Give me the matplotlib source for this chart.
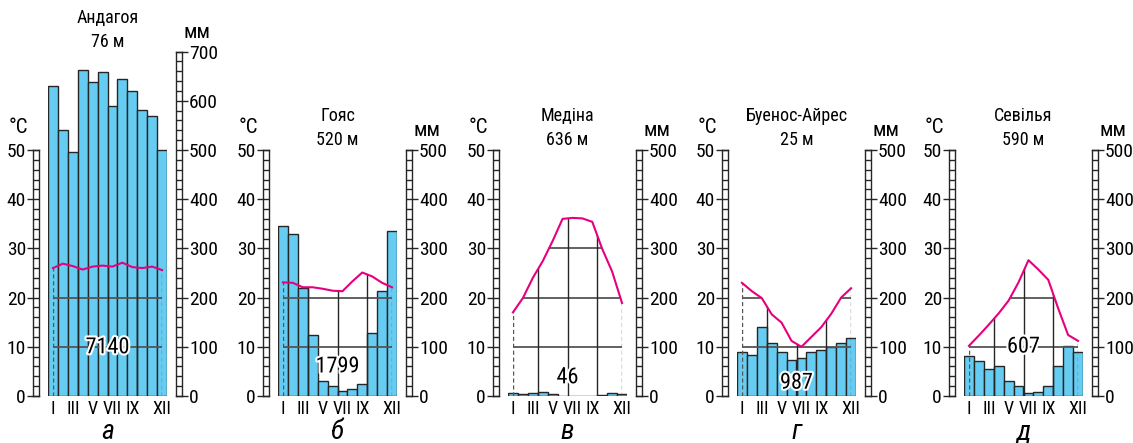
import numpy as np
import matplotlib
matplotlib.use("Agg")
from matplotlib import pyplot as plt
from matplotlib.ticker import MultipleLocator
from matplotlib.patches import Polygon
from matplotlib import font_manager
import matplotlib.patheffects as pe

# pick a narrow face if one is around, the original uses a condensed font
names = {f.name for f in font_manager.fontManager.ttflist}
narrow = [n for n in ["Liberation Sans Narrow", "DejaVu Sans Condensed", "Roboto Condensed",
                      "Open Sans Condensed"] if n in names]
plt.rcParams['font.family'] = narrow + ['DejaVu Sans']
plt.rcParams['font.stretch'] = 'condensed'

W, H = 1133, 443
PX_PER_UNIT = 4.92  # 10 °C == 100 mm == 49.2 px

months = np.arange(1, 13)
month_ticks = [1, 3, 5, 7, 9, 12]
month_labels = ["I", "III", "V", "VII", "IX", "XII"]

stations = ["Андагоя", "Гояс", "Медіна", "Буенос-Айрес", "Севілья"]
heights = ["76 м", "520 м", "636 м", "25 м", "590 м"]
totals = ["7140", "1799", "46", "987", "607"]
letters = ["а", "б", "в", "г", "д"]

# precipitation, mm
andagoya_prec = [630, 540, 495, 663, 638, 659, 590, 645, 620, 582, 569, 500]
goias_prec = [345, 330, 220, 125, 31, 20, 11, 14, 25, 129, 214, 335]
medina_prec = [7, 4, 6, 9, 4, 1, 0.5, 0.5, 1, 2, 7, 4]
ba_prec = [90, 83, 140, 108, 89, 73, 78, 89, 93, 100, 108, 118]
seville_prec = [82, 72, 55, 60, 31, 20, 6, 9, 20, 61, 102, 89]

# temperature, °C
andagoya_temp = [26.0, 26.9, 26.4, 25.7, 26.3, 26.5, 26.3, 27.1, 26.2, 26.0, 26.3, 25.6]
goias_temp = [23.1, 23.0, 22.1, 22.1, 21.8, 21.4, 21.3, 23.3, 25.1, 24.3, 23.0, 22.1]
medina_temp = [17.0, 19.9, 24.0, 27.4, 31.5, 36.0, 36.2, 36.1, 35.4, 29.9, 25.3, 18.9]
ba_temp = [23.0, 21.3, 19.9, 16.6, 14.9, 11.2, 10.0, 12.0, 14.0, 16.7, 20.0, 21.9]
seville_temp = [10.2, 12.3, 14.5, 16.8, 19.4, 23.1, 27.6, 25.7, 23.6, 17.8, 12.4, 11.2]

precs = [andagoya_prec, goias_prec, medina_prec, ba_prec, seville_prec]
temps = [andagoya_temp, goias_temp, medina_temp, ba_temp, seville_temp]
mm_max = [700, 500, 500, 500, 500]

bars_left = [48, 278, 508, 737, 964]
BARS_W = 119
BASE_Y = 396  # pixel row of zero, from the top

BAR_COLOR = "#66CCF2"
EDGE = "#262626"
GRID = "#555555"
TEMP_COLOR = "#E6007E"
FS_NUM = 14


def fx(x):
    return x / W


def fy(y):
    return 1 - y / H


def make_ruler(fig, left, top_val, units_per_10, side):
    h = top_val / units_per_10 * 10 * PX_PER_UNIT
    rax = fig.add_axes([fx(left), fy(BASE_Y), fx(6), h / H])
    rax.set_xlim(0, 1)
    rax.set_ylim(0, top_val)
    rax.set_xticks([])
    rax.yaxis.set_major_locator(MultipleLocator(units_per_10))
    rax.yaxis.set_minor_locator(MultipleLocator(units_per_10 / 5))
    wpt = 6 * 72 / 100
    if side == "right":
        rax.yaxis.tick_right()
    rax.tick_params(axis="y", which="minor", direction="in", length=wpt, width=1, color=EDGE)
    rax.tick_params(axis="y", which="major", direction="inout", length=2 * wpt, width=1,
                    color=EDGE, labelsize=FS_NUM, pad=0.8)
    for s in rax.spines.values():
        s.set_linewidth(1)
        s.set_color(EDGE)
    return rax


def draw_panel(fig, i):
    x0 = bars_left[i]
    prec = np.array(precs[i]) / 10.0
    temp = np.array(temps[i])
    top = mm_max[i] / 10

    ax = fig.add_axes([fx(x0), fy(BASE_Y), fx(BARS_W), top * PX_PER_UNIT / H])
    ax.set_xlim(0.5, 12.5)
    ax.set_ylim(0, top)
    for s in ax.spines.values():
        s.set_visible(False)
    ax.set_yticks([])
    ax.set_xticks(month_ticks, month_labels)
    ax.tick_params(axis="x", length=0, pad=3, labelsize=13)

    ax.bar(months, prec, width=1.0, color=BAR_COLOR, edgecolor=EDGE, linewidth=1.0, zorder=2)

    # grid clipped to the area under the temperature curve
    clip = Polygon(np.column_stack([np.r_[1, months, 12], np.r_[0, temp, 0]]),
                   closed=True, transform=ax.transData, visible=False)
    ax.add_patch(clip)
    hl = ax.hlines([10, 20, 30, 40], 1, 12, colors=GRID, linewidth=1.3, zorder=3)
    hl.set_clip_path(clip)
    vl = ax.vlines([3.5, 6.5, 9.5], 0, 50, colors=EDGE, linewidth=1.0, zorder=3)
    vl.set_clip_path(clip)
    dl = ax.vlines([1, 12], 0, 50, colors=GRID, linewidth=1.0, linestyles=(0, (3, 2)), zorder=3)
    dl.set_clip_path(clip)

    ax.plot(months, temp, color=TEMP_COLOR, linewidth=1.5, zorder=4)

    ax.text(6.5, [9.8, 5.9, 3.7, 2.6, 9.95][i], totals[i], ha="center", va="center",
            fontsize=16, zorder=5,
            path_effects=[pe.withStroke(linewidth=3, foreground="white")])

    make_ruler(fig, x0 - 15, 50, 10, "left")
    make_ruler(fig, x0 + BARS_W + 9, mm_max[i], 100, "right")

    cx = x0 + BARS_W / 2
    ty = BASE_Y - top * PX_PER_UNIT
    fig.text(fx(cx), fy(ty - 34), stations[i], ha="center", va="center", fontsize=13)
    fig.text(fx(cx), fy(ty - 10), heights[i], ha="center", va="center", fontsize=13)
    fig.text(fx(x0 - 30), fy(128), "°C", ha="center", va="center", fontsize=15)
    fig.text(fx(x0 + BARS_W + 30), fy(ty - 19), "мм", ha="center", va="center", fontsize=15)
    fig.text(fx(cx), fy(432), letters[i], ha="center", va="center", fontsize=20, style="italic")


def main():
    fig = plt.figure(figsize=(W / 100, H / 100), dpi=100)
    for i in range(5):
        draw_panel(fig, i)
    fig.savefig("out.png", dpi=100)


if __name__ == "__main__":
    main()
